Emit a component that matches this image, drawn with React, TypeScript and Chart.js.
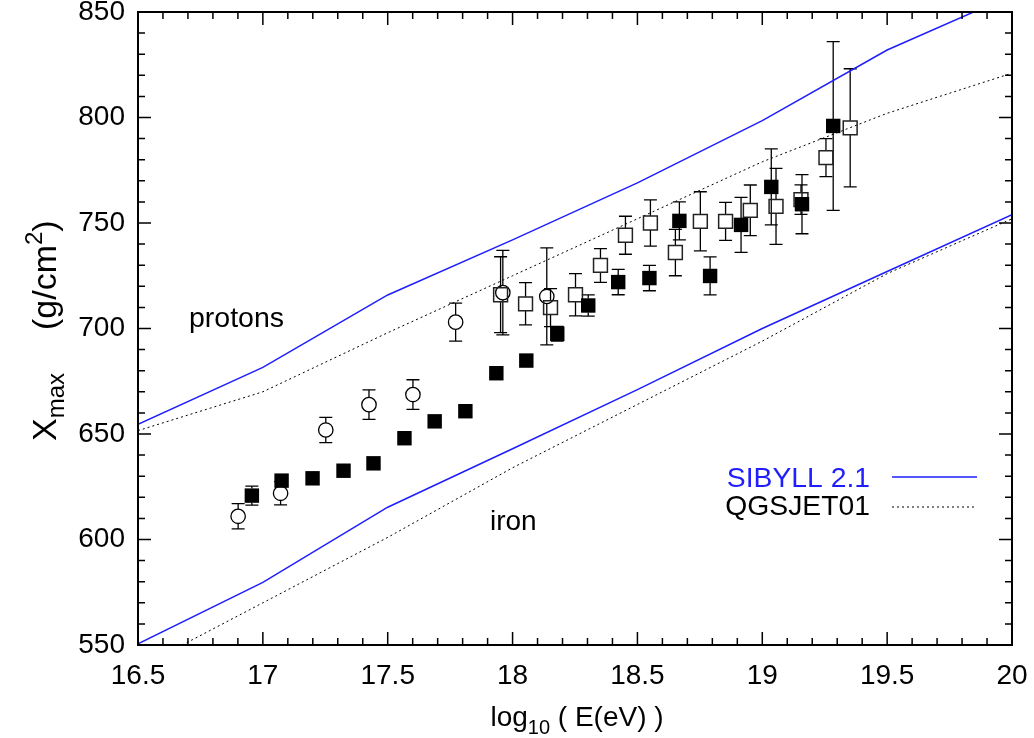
import React, { useEffect, useRef } from 'react';
import { Chart, registerables } from 'chart.js';
Chart.register(...registerables);

// ---- model curves (log10 E, Xmax) ----
const modelEnergies = [16.5, 17, 17.5, 18, 18.5, 19, 19.5, 20];
const sibyllProton = [654.6, 681.6, 715.9, 742, 769, 798.5, 832, 858];
const sibyllIron = [550.5, 579.7, 615.3, 643, 671, 700, 727, 754];
const qgsjetProton = [651.6, 670, 698, 725, 752, 779, 802, 821];
const qgsjetIron = [539, 570, 601, 634, 664, 694, 726, 752];

// ---- open circles ----
const circleE = [16.901, 17.071, 17.252, 17.425, 17.601, 17.772, 17.961, 18.137];
const circleX = [611.0, 621.9, 651.9, 663.9, 668.7, 703.0, 717.0, 715.2];
const circleErr = [6, 5.5, 6, 7, 7, 9, 20, 23];

// ---- open squares ----
const openE = [17.952, 18.052, 18.152, 18.252, 18.352, 18.452, 18.552, 18.652, 18.752, 18.853, 18.952, 19.055, 19.155, 19.255, 19.352];
const openX = [716.0, 711.7, 709.9, 716.0, 729.9, 744.2, 750.0, 736.0, 750.8, 750.8, 756.0, 757.9, 761.1, 781.0, 795.1];
const openErr = [18, 10, 9, 10, 8, 9, 11, 11, 14, 9, 12, 18, 7, 9, 28];

// ---- filled squares ----
const filledE = [16.956, 17.075, 17.199, 17.323, 17.443, 17.567, 17.688, 17.811, 17.935, 18.055, 18.179, 18.303, 18.423, 18.548, 18.668, 18.791, 18.915, 19.036, 19.159, 19.284];
const filledX = [620.8, 627.9, 629.0, 632.6, 636.1, 648.0, 656.0, 660.8, 678.8, 684.8, 697.5, 710.9, 722.0, 723.9, 751.0, 724.9, 749.1, 767.1, 758.9, 796.0];
const filledErr = [4.5, 0, 0, 0, 0, 0, 0, 0, 0, 0, 3.5, 5, 6, 6, 9, 9, 13, 18, 14, 40];

// ---- axes ----
const xMin = 16.5, xMax = 20, xStep = 0.5, xMinorCount = 35;
const yMin = 550, yMax = 850, yStep = 50, yMinorCount = 30;

const legendLabels = ['SIBYLL 2.1', 'QGSJET01'];
const FONT = '"Liberation Sans", Arial, Helvetica, sans-serif';
const BLUE = 'rgb(30,30,255)';

const errorSets = [
  { e: filledE, v: filledX, err: filledErr },
  { e: openE, v: openX, err: openErr },
  { e: circleE, v: circleX, err: circleErr },
];

const decorPlugin = {
  id: 'decor',
  beforeDatasetsDraw(chart: any) {
    const ctx = chart.ctx;
    const xs = chart.scales.x, ys = chart.scales.y;
    ctx.save();
    ctx.strokeStyle = '#000';
    ctx.lineWidth = 1.3;
    const gap = 7, cap = 6.5;
    for (const s of errorSets) {
      for (let i = 0; i < s.e.length; i++) {
        if (!s.err[i]) continue;
        const px = xs.getPixelForValue(s.e[i]);
        const py = ys.getPixelForValue(s.v[i]);
        const top = ys.getPixelForValue(s.v[i] + s.err[i]);
        const bot = ys.getPixelForValue(s.v[i] - s.err[i]);
        ctx.beginPath();
        if (top < py - gap) { ctx.moveTo(px, top); ctx.lineTo(px, py - gap); }
        if (bot > py + gap) { ctx.moveTo(px, py + gap); ctx.lineTo(px, bot); }
        ctx.moveTo(px - cap, top); ctx.lineTo(px + cap, top);
        ctx.moveTo(px - cap, bot); ctx.lineTo(px + cap, bot);
        ctx.stroke();
      }
    }
    ctx.restore();
  },
  afterDraw(chart: any) {
    const ctx = chart.ctx;
    const { left, right, top, bottom } = chart.chartArea;
    const xs = chart.scales.x, ys = chart.scales.y;
    ctx.save();
    // frame
    ctx.strokeStyle = '#000';
    ctx.lineWidth = 2;
    ctx.strokeRect(left, top, right - left, bottom - top);
    // ticks
    ctx.lineWidth = 1.5;
    ctx.beginPath();
    for (let i = 0; i <= xMinorCount; i++) {
      const v = xMin + (i * (xMax - xMin)) / xMinorCount;
      const px = xs.getPixelForValue(v);
      const len = i % 5 === 0 ? 13 : 7;
      ctx.moveTo(px, bottom); ctx.lineTo(px, bottom - len);
      ctx.moveTo(px, top); ctx.lineTo(px, top + len);
    }
    for (let i = 0; i <= yMinorCount; i++) {
      const v = yMin + (i * (yMax - yMin)) / yMinorCount;
      const py = ys.getPixelForValue(v);
      const len = i % 5 === 0 ? 13 : 7;
      ctx.moveTo(left, py); ctx.lineTo(left + len, py);
      ctx.moveTo(right, py); ctx.lineTo(right - len, py);
    }
    ctx.stroke();

    // in-plot labels
    ctx.fillStyle = '#000';
    ctx.textBaseline = 'alphabetic';
    ctx.textAlign = 'left';
    ctx.font = `28.5px ${FONT}`;
    ctx.fillText('protons', 189, 327);
    ctx.font = `28px ${FONT}`;
    ctx.fillText('iron', 490, 530);

    // legend
    ctx.font = `28.3px ${FONT}`;
    ctx.textAlign = 'right';
    ctx.fillStyle = BLUE;
    ctx.fillText(legendLabels[0], 870, 487);
    ctx.fillStyle = '#000';
    ctx.fillText(legendLabels[1], 870, 515);
    ctx.strokeStyle = BLUE;
    ctx.lineWidth = 1.5;
    ctx.setLineDash([]);
    ctx.beginPath(); ctx.moveTo(892, 477); ctx.lineTo(977, 477); ctx.stroke();
    ctx.strokeStyle = '#000';
    ctx.lineWidth = 1;
    ctx.setLineDash([2, 3]);
    ctx.beginPath(); ctx.moveTo(892, 507); ctx.lineTo(977, 507); ctx.stroke();
    ctx.setLineDash([]);

    // x title: log10 ( E(eV) )
    ctx.textAlign = 'left';
    const mainX = `28px ${FONT}`, subX = `20px ${FONT}`;
    const p1 = 'log', p2 = '10', p3 = ' ( E(eV) )';
    ctx.font = mainX; const w1 = ctx.measureText(p1).width; const w3 = ctx.measureText(p3).width;
    ctx.font = subX; const w2 = ctx.measureText(p2).width;
    let sx = (left + right) / 2 + 2 - (w1 + w2 + w3) / 2;
    const by = 726;
    ctx.font = mainX; ctx.fillText(p1, sx, by); sx += w1;
    ctx.font = subX; ctx.fillText(p2, sx, by + 8); sx += w2;
    ctx.font = mainX; ctx.fillText(p3, sx, by);

    // y title: X_max   (g/cm^2)
    ctx.translate(56, 441);
    ctx.rotate(-Math.PI / 2);
    const mainY = `34px ${FONT}`, smallY = `24px ${FONT}`;
    let tx = 0;
    ctx.font = mainY; ctx.fillText('X', tx, 0); tx += ctx.measureText('X').width;
    ctx.font = smallY; ctx.fillText('max', tx, 8); tx += ctx.measureText('max').width;
    tx += 43;
    ctx.font = mainY; ctx.fillText('(g/cm', tx, 0); tx += ctx.measureText('(g/cm').width;
    ctx.font = smallY; ctx.fillText('2', tx, -14); tx += ctx.measureText('2').width;
    ctx.font = mainY; ctx.fillText(')', tx, 0);
    ctx.restore();
  },
};

export default function App() {
  const ref = useRef<HTMLCanvasElement>(null);
  useEffect(() => {
    const canvas = ref.current;
    if (!canvas) return;
    const pts = (xs: number[], ys: number[]) => xs.map((x, i) => ({ x, y: ys[i] }));
    const lineDs = (label: string, ys: number[], color: string, dash: number[], width: number) => ({
      label, data: pts(modelEnergies, ys), showLine: true, pointRadius: 0, borderColor: color,
      borderWidth: width, borderDash: dash, fill: false, tension: 0, clip: 0,
    });
    const chart = new Chart(canvas, {
      type: 'scatter',
      data: {
        datasets: [
          { label: 'filled', data: pts(filledE, filledX), pointStyle: 'rect', pointRadius: 10.2,
            backgroundColor: '#000', borderColor: '#000', borderWidth: 0, showLine: false },
          { label: 'open squares', data: pts(openE, openX), pointStyle: 'rect', pointRadius: 9.8,
            backgroundColor: 'rgba(0,0,0,0)', borderColor: '#222', borderWidth: 1.5, showLine: false },
          { label: 'circles', data: pts(circleE, circleX), pointStyle: 'circle', pointRadius: 7.2,
            backgroundColor: 'rgba(0,0,0,0)', borderColor: '#000', borderWidth: 1.3, showLine: false },
          lineDs('SIBYLL p', sibyllProton, BLUE, [], 1.5),
          lineDs('SIBYLL Fe', sibyllIron, BLUE, [], 1.5),
          lineDs('QGSJET p', qgsjetProton, '#000', [2, 3], 1),
          lineDs('QGSJET Fe', qgsjetIron, '#000', [2, 3], 1),
        ] as any,
      },
      options: {
        animation: false,
        responsive: false,
        devicePixelRatio: 1,
        layout: { padding: { left: 0, right: 22, top: 12, bottom: 0 } },
        plugins: { legend: { display: false }, tooltip: { enabled: false } },
        scales: {
          x: {
            type: 'linear', min: xMin, max: xMax,
            grid: { display: false, drawTicks: false }, border: { display: false },
            ticks: { stepSize: xStep, padding: 14, color: '#000', font: { family: FONT, size: 28 },
              maxRotation: 0, autoSkip: false, callback: (v: any) => String(v) },
            afterFit: (s: any) => { s.height = 93; s.paddingLeft = 0; s.paddingRight = 0; },
          },
          y: {
            type: 'linear', min: yMin, max: yMax,
            grid: { display: false, drawTicks: false }, border: { display: false },
            ticks: { stepSize: yStep, padding: 13, color: '#000', font: { family: FONT, size: 28 },
              callback: (v: any) => String(v) },
            afterFit: (s: any) => { s.width = 138; s.paddingTop = 0; s.paddingBottom = 0; },
          },
        },
      } as any,
      plugins: [decorPlugin],
    });
    return () => chart.destroy();
  }, []);
  return (
    <div style={{ position: 'absolute', left: 0, top: 0, width: 1034, height: 738, background: '#fff' }}>
      <canvas ref={ref} width={1034} height={738} style={{ display: 'block' }} />
    </div>
  );
}
